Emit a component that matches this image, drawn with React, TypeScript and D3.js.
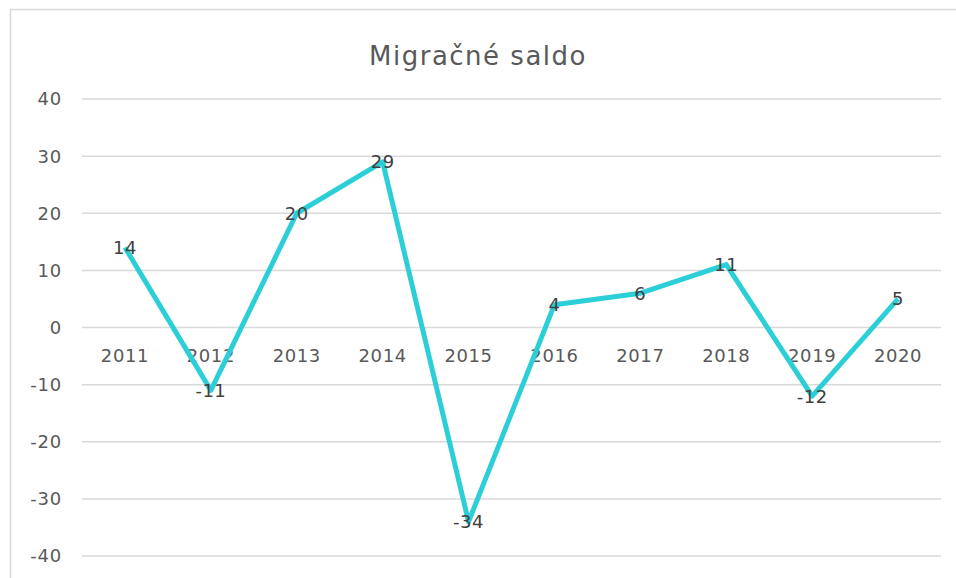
import React from "react";
import * as d3 from "d3";

const categories = ["2011", "2012", "2013", "2014", "2015", "2016", "2017", "2018", "2019", "2020"];
const values = [14, -11, 20, 29, -34, 4, 6, 11, -12, 5];
const yTicks = [40, 30, 20, 10, 0, -10, -20, -30, -40];
const title = "Migračné saldo";

export default function App() {
  const W = 956, H = 578;
  const left = 82, right = 941, top = 99, bottom = 556;
  const x = d3.scaleBand<string>().domain(categories).range([left, right]);
  const y = d3.scaleLinear().domain([-40, 40]).range([bottom, top]);
  const line = d3.line<number>()
    .x((_, i) => (x(categories[i]) as number) + x.bandwidth() / 2)
    .y((d) => y(d));
  const font = "'DejaVu Sans', 'Noto Sans', sans-serif";
  return (
    <svg width={W} height={H} style={{ position: "absolute", left: 0, top: 0 }} fontFamily={font}>
      <rect x={0} y={0} width={W} height={H} fill="#fff" />
      <rect x={10.5} y={9.5} width={W + 20} height={H + 20} fill="#fff" stroke="#d9d9d9" strokeWidth={1.5} />
      <text x={478} y={65} textAnchor="middle" fontSize={26} letterSpacing={1.5} fill="#595959">{title}</text>
      {yTicks.map((t) => (
        <g key={t}>
          <line x1={left} x2={right} y1={y(t)} y2={y(t)} stroke="#d9d9d9" strokeWidth={1.5} />
          <text x={62} y={y(t)} dy="0.36em" textAnchor="end" fontSize={18} letterSpacing={0.8} fill="#595959">{t}</text>
        </g>
      ))}
      {categories.map((c) => (
        <text key={c} x={(x(c) as number) + x.bandwidth() / 2} y={y(0) + 28} dy="0.36em" textAnchor="middle" fontSize={18} letterSpacing={0.6} fill="#595959">{c}</text>
      ))}
      <path d={line(values) || ""} fill="none" stroke="#2ccfd7" strokeWidth={5} strokeLinejoin="round" />
      {values.map((v, i) => (
        <text key={i} x={(x(categories[i]) as number) + x.bandwidth() / 2} y={y(v)} dy="0.36em" textAnchor="middle" fontSize={18} letterSpacing={0.5} fill="#404040">{v}</text>
      ))}
    </svg>
  );
}
